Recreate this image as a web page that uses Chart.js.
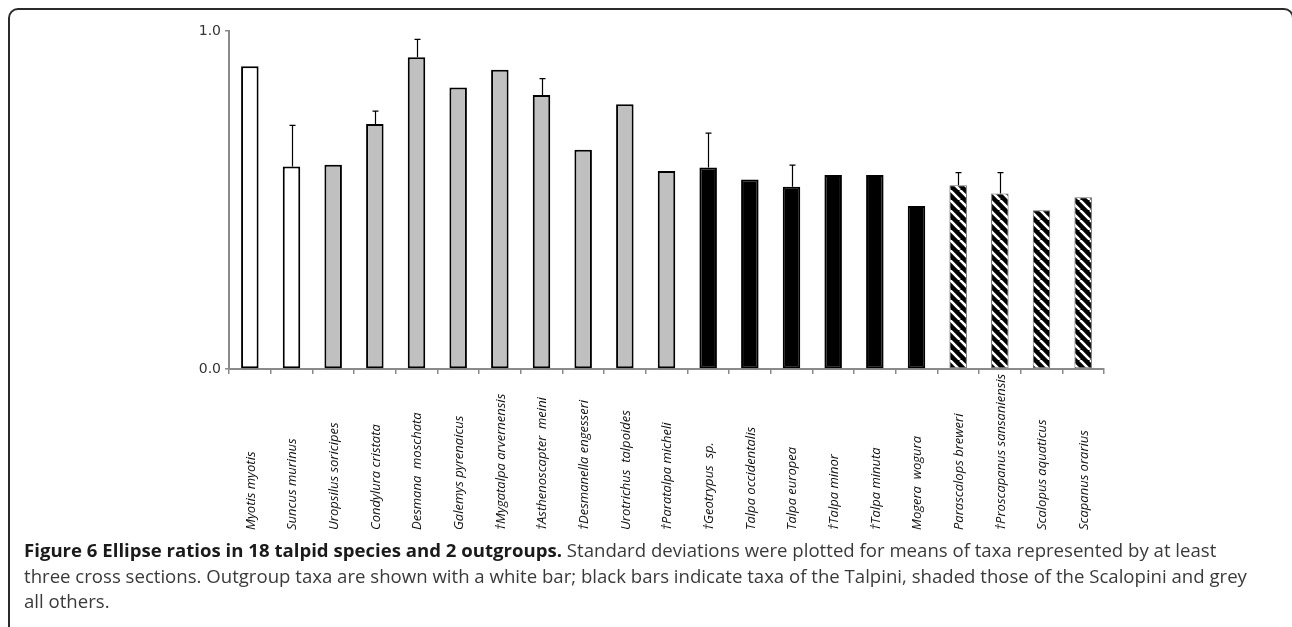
<!DOCTYPE html>
<html><head><meta charset="utf-8">
<script src="https://cdn.jsdelivr.net/npm/chart.js@4.4.1/dist/chart.umd.min.js"></script>
<style>
html,body{margin:0;padding:0;background:#fff;width:1292px;height:627px;overflow:hidden;}
#frame{position:absolute;left:8px;top:8px;width:1286px;height:700px;border:2px solid #2a2a2a;border-radius:10px;box-sizing:border-box;}
#wrap{position:absolute;left:0;top:0;width:1292px;height:540px;}
#caption{position:absolute;left:24px;top:537px;font-family:"Open Sans";font-size:18.6px;line-height:25.5px;color:#3a3a3a;white-space:nowrap;}
#caption b{color:#1a1a1a;font-weight:700;}
</style></head>
<body>
<div id="frame"></div>
<div id="wrap"><canvas id="c"></canvas></div>
<div id="caption"><b>Figure 6 Ellipse ratios in 18 talpid species and 2 outgroups.</b> Standard deviations were plotted for means of taxa represented by at least<br>three cross sections. Outgroup taxa are shown with a white bar; black bars indicate taxa of the Talpini, shaded those of the Scalopini and grey<br>all others.</div>
<script>
const categories = ["Myotis myotis","Suncus murinus","Uropsilus soricipes","Condylura cristata","Desmana  moschata","Galemys pyrenaicus","\u2020Mygatalpa arvernensis","\u2020Asthenoscapter  meini","\u2020Desmanella engesseri","Urotrichus  talpoides","\u2020Paratalpa micheli","\u2020Geotrypus  sp.","Talpa occidentalis","Talpa europea","\u2020Talpa minor","\u2020Talpa minuta","Mogera  wogura","Parascalops breweri","\u2020Proscapanus sansaniensis","Scalopus aquaticus","Scapanus orarius"];
const ratios = [0.896,0.599,0.604,0.725,0.922,0.833,0.885,0.811,0.649,0.783,0.586,0.596,0.561,0.539,0.574,0.574,0.482,0.544,0.519,0.470,0.508];
const sds = [null,0.122,null,0.038,0.053,null,null,0.048,null,null,null,0.102,null,0.064,null,null,null,0.037,0.062,null,null];
const groups = ["out","out","other","other","other","other","other","other","other","other","other","talpini","talpini","talpini","talpini","talpini","talpini","scalopini","scalopini","scalopini","scalopini"];
const yTicks = [0.0, 1.0];

function hatch(){
  const s = 10, cv = document.createElement('canvas'); cv.width = s; cv.height = s;
  const g = cv.getContext('2d');
  g.fillStyle = '#000'; g.fillRect(0,0,s,s);
  g.strokeStyle = '#fff'; g.lineWidth = 2.6;
  [[-s,0],[0,0],[s,0]].forEach(([dx])=>{ g.beginPath(); g.moveTo(dx,0); g.lineTo(dx+s,s); g.stroke(); });
  return g.createPattern(cv,'repeat');
}
const pat = hatch();
const fills = groups.map(g => g==='out' ? '#ffffff' : g==='other' ? '#c0c0c0' : g==='talpini' ? '#000000' : pat);
const borders = groups.map(g => g==='scalopini' ? '#6a6a6a' : '#000000');
const bw = groups.map(g => g==='scalopini' ? 1 : 2);

const errPlugin = {
  id:'err',
  afterDatasetsDraw(chart){
    const ctx = chart.ctx, ys = chart.scales.y, meta = chart.getDatasetMeta(0);
    ctx.save(); ctx.strokeStyle = '#000'; ctx.lineWidth = 1.2;
    meta.data.forEach((bar,i)=>{
      if (sds[i] == null) return;
      const x = Math.round(bar.x)+0.5, yt = ys.getPixelForValue(ratios[i]+sds[i]);
      ctx.beginPath(); ctx.moveTo(x, bar.y); ctx.lineTo(x, yt);
      ctx.moveTo(x-3, yt); ctx.lineTo(x+3, yt); ctx.stroke();
    });
    ctx.restore();
  }
};
const labelPlugin = {
  id:'labels',
  afterDraw(chart){
    const ctx = chart.ctx, xs = chart.scales.x;
    ctx.save(); ctx.font = 'italic 13px "Open Sans"'; ctx.fillStyle = '#111';
    ctx.textAlign = 'left'; ctx.textBaseline = 'middle';
    categories.forEach((c,i)=>{
      const x = xs.getPixelForTick(i);
      ctx.save(); ctx.translate(x+1, 530); ctx.rotate(-Math.PI/2); ctx.fillText(c,0,0); ctx.restore();
    });
    ctx.restore();
  }
};

new Chart(document.getElementById('c'), {
  type:'bar',
  data:{ labels: categories, datasets:[{ data: ratios, backgroundColor: fills, borderColor: borders, borderWidth: bw, borderSkipped:false, categoryPercentage:1, barPercentage:0.42 }]},
  options:{
    responsive:true, maintainAspectRatio:false, animation:false,
    layout:{ padding:{ left:0, right:188, top:31, bottom:0 } },
    plugins:{ legend:{display:false}, tooltip:{enabled:false} },
    scales:{
      x:{ grid:{ offset:true, drawOnChartArea:false, drawTicks:true, tickLength:5, color:'#8a8a8a', lineWidth:1.5 },
          border:{ color:'#8a8a8a', width:2 }, ticks:{ display:false },
          afterFit(s){ s.height = 171; } },
      y:{ min:0, max:1,
          afterBuildTicks(s){ s.ticks = yTicks.map(v=>({value:v})); },
          ticks:{ callback:v=>Number(v).toFixed(1), font:{ family:'DejaVu Sans', size:14 }, color:'#333', padding:4 },
          grid:{ drawOnChartArea:false, drawTicks:true, tickLength:4, color:'#8a8a8a', lineWidth:1.5 },
          border:{ color:'#8a8a8a', width:2 },
          afterFit(s){ s.width = 229; } }
    }
  },
  plugins:[errPlugin, labelPlugin]
});
</script>
</body></html>
